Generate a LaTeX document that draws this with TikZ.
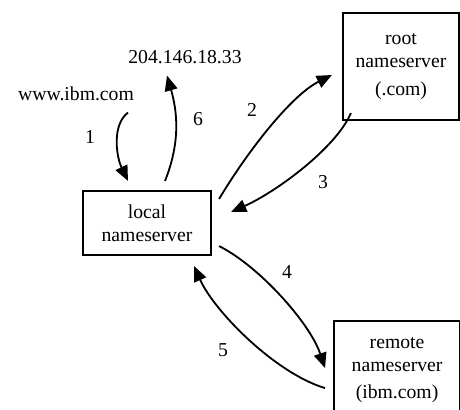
\documentclass[tikz,border=0pt]{standalone}
\usepackage{fontspec}
\setmainfont{Liberation Serif}
\usetikzlibrary{arrows.meta,positioning,calc}
\tikzset{
  nsbox/.style={draw=black, line width=1.5pt, align=center, inner sep=0pt,
    minimum width=#1, font=\fontsize{14}{16.5}\selectfont},
  nsbox/.default=3.2cm,
  plainlbl/.style={inner sep=0pt, font=\fontsize{14}{16.5}\selectfont},
  steplbl/.style={inner sep=0pt, font=\fontsize{14}{16.5}\selectfont},
  dnsarr/.style={-{Triangle[length=3.8mm, width=3.2mm]}, line width=1.3pt, black},
}
\begin{document}
\begin{tikzpicture}[x=0.025cm, y=-0.025cm]
  \useasboundingbox (0,0) rectangle (460,409);
  % servidores
  \node[nsbox=3.2cm, minimum height=1.6cm] (local) at (147,223) {local\\nameserver};
  \node[nsbox=2.9cm, minimum height=2.675cm] (root) at (401,66.5) {root\\nameserver\\[3pt](.com)};
  \node[nsbox=3.15cm, minimum height=2.45cm, anchor=north west] (remote) at (333,320)
    {remote\\nameserver\\[3pt](ibm.com)};
  % nombre y direccion
  \node[plainlbl, anchor=base] (www) at (76,100) {www.ibm.com};
  \node[plainlbl, anchor=base] (ip) at (185,63) {204.146.18.33};
  % consultas y respuestas
  \draw[dnsarr] ([shift={(52,12)}]www.south) .. controls +(-16,12) and +(-12,-25) .. ([shift={(-19,-9)}]local.north);
  \draw[dnsarr] ([shift={(18,-9)}]local.north) .. controls +(16,-40) and +(10,35) .. ([shift={(-18,12)}]ip.south);
  \draw[dnsarr] ([shift={(7,9)}]local.north east) .. controls +(30,-50) and +(-40,20) .. ([shift={(-10,8.5)}]root.west);
  \draw[dnsarr] ([shift={(9,-8)}]root.south west) .. controls +(-15,35) and +(45,-20) .. ([shift={(19,-11)}]local.east);
  \draw[dnsarr] ([shift={(7,-10)}]local.south east) .. controls +(40,20) and +(-15,-45) .. ([shift={(-8,-2)}]remote.west);
  \draw[dnsarr] ([shift={(-8,18)}]remote.west) .. controls +(-50,-15) and +(20,45) .. ([shift={(-18,10)}]local.south east);
  % pasos
  \node[steplbl] (s1) at (90,137) {1};
  \node[steplbl] (s2) at (252,110) {2};
  \node[steplbl] (s3) at (323,182) {3};
  \node[steplbl] (s4) at (287,272) {4};
  \node[steplbl] (s5) at (223,350) {5};
  \node[steplbl] (s6) at (198,119) {6};
\end{tikzpicture}
\end{document}
